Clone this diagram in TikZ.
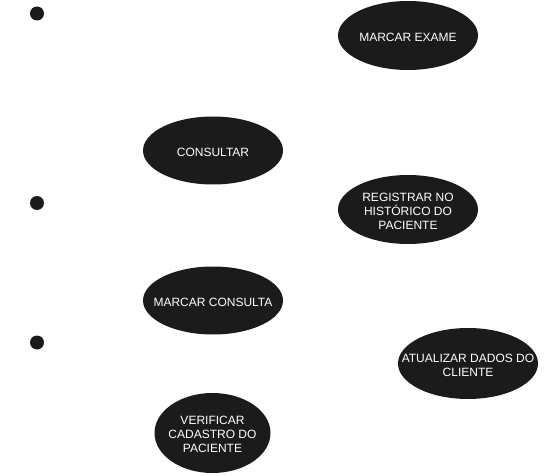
\documentclass[tikz,border=0pt]{standalone}
\usepackage{fontspec}
\setmainfont{Liberation Sans}
\definecolor{ucblack}{RGB}{27, 27, 27}
\usetikzlibrary{shapes.geometric, positioning}
\tikzset{
	usecase/.style={ellipse, fill=ucblack, draw=none, inner sep=0pt, minimum width=140pt, minimum height=68pt,
		label={[text=white, align=center, inner sep=0pt, yshift=-1.5pt, font=\fontsize{12pt}{14pt}\selectfont]center:#1}},
	bullet/.style={circle, fill=ucblack, draw=none, inner sep=0pt, minimum size=14pt},
}

\begin{document}
\begin{tikzpicture}[x=1pt, y=-1pt]
		\useasboundingbox (0,0) rectangle (552,476);
		% marcadores a esquerda
		\node[bullet] (b1) at (37,13.5) {};
		\node[bullet] (b2) at (37,203) {};
		\node[bullet] (b3) at (37,342.5) {};
		% casos de uso
		\node[usecase={MARCAR EXAME}, minimum height=69pt] (exame) at (408,35.5) {};
		\node[usecase={CONSULTAR}] (cons) at (213,150.5) {};
		\node[usecase={REGISTRAR NO\\HISTÓRICO DO\\PACIENTE}, minimum height=69pt] (reg) at (408,209.5) {};
		\node[usecase={MARCAR CONSULTA}] (mcons) at (213,300.5) {};
		\node[usecase={ATUALIZAR DADOS DO\\CLIENTE}, minimum height=71pt] (atual) at (468,363.5) {};
		\node[usecase={VERIFICAR\\CADASTRO DO\\PACIENTE}, minimum width=116pt, minimum height=80pt] (verif) at (212.5,433) {};
	\end{tikzpicture}
\end{document}
